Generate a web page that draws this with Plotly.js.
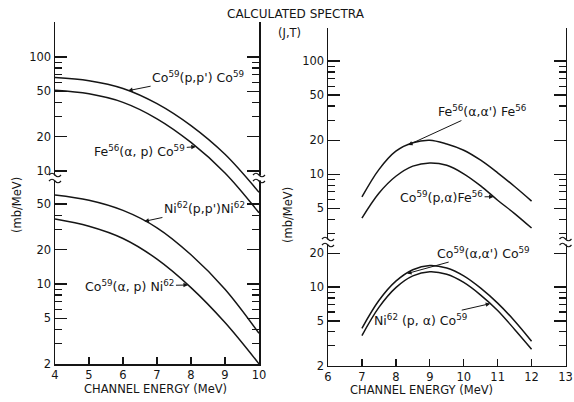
<!DOCTYPE html>
<html><head><meta charset="utf-8">
<script src="https://cdn.plot.ly/plotly-3.0.1.min.js"></script>
<style>html,body{margin:0;padding:0;background:#fff}#chart{width:574px;height:402px}</style>
</head><body><div id="chart"></div>
<script>
// ---- data ----
const energyLeft = [4, 5, 6, 7, 8, 9, 10];
const co59ppCo59 = [66, 62, 53, 39, 25, 14, 6.5];
const fe56apCo59 = [51, 47.5, 40, 28.7, 17.8, 9.6, 4.3];
const ni62ppNi62 = [60, 54, 44, 31, 18, 9, 3.7];
const co59apNi62 = [37, 32, 25, 16.5, 9.3, 4.6, 2.0];

const energyRight = [7, 7.5, 8, 8.5, 9, 9.5, 10, 10.5, 11, 11.5, 12];
const fe56aaFe56 = [6.3, 11, 16, 19, 20, 18.5, 16.3, 13.3, 10.3, 7.8, 5.8];
const co59paFe56 = [4.1, 6.8, 9.6, 11.8, 12.6, 12.0, 10.1, 7.9, 5.9, 4.5, 3.35];
const co59aaCo59 = [4.3, 7.6, 11.3, 14.3, 15.6, 14.8, 12.6, 9.8, 7.2, 5.0, 3.3];
const ni62paCo59 = [3.7, 6.6, 9.9, 12.6, 13.7, 13.0, 11.0, 8.5, 6.2, 4.2, 2.8];

const xTicksLeft = [4, 5, 6, 7, 8, 9, 10];
const xTopTicksLeft = [5, 6, 7, 8, 9];
const xTicksRight = [6, 7, 8, 9, 10, 11, 12, 13];
const xTopTicksRight = [7, 8, 9, 10, 11, 12];
const yMajorLeftUpper = [10, 20, 50, 100];
const yMinorLeftUpper = [30, 40, 60, 70, 80, 90];
const yMajorLeftLower = [2, 5, 10, 20, 50];
const yMinorLeftLower = [3, 4, 6, 7, 8, 9, 30, 40];
const yMajorRightUpper = [5, 10, 20, 50, 100];
const yMinorRightUpper = [3, 4, 6, 7, 8, 9, 30, 40, 60, 70, 80, 90];
const yMajorRightLower = [2, 5, 10, 20];
const yMinorRightLower = [3, 4, 6, 7, 8, 9];

const titleText = 'CALCULATED SPECTRA';
const subtitleText = '(J,T)';
const xTitle = 'CHANNEL ENERGY (MeV)';
const yTitle = '(mb/MeV)';

// ---- helpers ----
const W = 574, H = 402;
const fx = p => p / W;
const fy = p => 1 - p / H;
const INK = '#151515';
const FONT = 'DejaVu Sans, sans-serif';
function logAt(xs, ys, x) {
  for (let i = 0; i < xs.length - 1; i++) {
    if (x >= xs[i] && x <= xs[i + 1]) {
      const t = (x - xs[i]) / (xs[i + 1] - xs[i]);
      return Math.log10(ys[i]) * (1 - t) + Math.log10(ys[i + 1]) * t;
    }
  }
  return Math.log10(ys[ys.length - 1]);
}
function line(x, y, xa, ya, name) {
  return {x: x, y: y, xaxis: xa, yaxis: ya, name: name, type: 'scatter', mode: 'lines',
    line: {color: INK, width: 1.5, shape: 'spline', smoothing: 1}, showlegend: false, hoverinfo: 'skip'};
}
const traces = [
  line(energyLeft, co59ppCo59, 'x', 'y', "Co59(p,p')Co59"),
  line(energyLeft, fe56apCo59, 'x', 'y', 'Fe56(a,p)Co59'),
  line(energyLeft, ni62ppNi62, 'x', 'y2', "Ni62(p,p')Ni62"),
  line(energyLeft, co59apNi62, 'x', 'y2', 'Co59(a,p)Ni62'),
  line(energyRight, fe56aaFe56, 'x3', 'y3', "Fe56(a,a')Fe56"),
  line(energyRight, co59paFe56, 'x3', 'y3', 'Co59(p,a)Fe56'),
  line(energyRight, co59aaCo59, 'x3', 'y4', "Co59(a,a')Co59"),
  line(energyRight, ni62paCo59, 'x3', 'y4', 'Ni62(p,a)Co59')
];

const axBase = {showline: true, linecolor: INK, linewidth: 1.5, ticks: 'inside', tickcolor: INK,
  tickwidth: 1.3, showgrid: false, zeroline: false, tickfont: {family: FONT, size: 11.5, color: INK},
  fixedrange: true, ticklabeloverflow: 'allow'};
function xAx(domain, range, anchor, ticks, opts) {
  return Object.assign({}, axBase, {domain: domain, range: range, anchor: anchor, tickmode: 'array',
    tickvals: ticks, ticktext: ticks.map(String), ticklen: 7}, opts || {});
}
function yAx(domain, range, anchor, major, minor) {
  return Object.assign({}, axBase, {domain: domain, range: range, anchor: anchor, type: 'log',
    tickmode: 'array', tickvals: major, ticktext: major.map(String), ticklen: 12, mirror: 'ticks',
    minor: {tickmode: 'array', tickvals: minor, ticks: 'inside', ticklen: 7, tickcolor: INK, tickwidth: 1.2}});
}

const leftDom = [fx(55), fx(259)];
const rightDom = [fx(328), fx(565.5)];

const layout = {
  width: W, height: H, margin: {l: 0, r: 0, t: 0, b: 0}, paper_bgcolor: '#fff', plot_bgcolor: 'rgba(0,0,0,0)',
  font: {family: FONT, color: INK, size: 11}, showlegend: false,
  xaxis: xAx(leftDom, [4, 10], 'y2', xTicksLeft),
  xaxis2: xAx(leftDom, [4, 10], 'y', xTopTicksLeft, {side: 'top', showticklabels: false}),
  xaxis3: xAx(rightDom, [6, 13], 'y4', xTicksRight),
  xaxis4: xAx(rightDom, [6, 13], 'y3', xTopTicksRight, {side: 'top', showticklabels: false}),
  yaxis: yAx([fy(220), fy(22)], [0.570, 2.307], 'x', yMajorLeftUpper, yMinorLeftUpper),
  yaxis2: yAx([fy(364), fy(178)], [0.300, 1.927], 'x', yMajorLeftLower, yMinorLeftLower),
  yaxis3: yAx([fy(242), fy(27.7)], [0.402, 2.294], 'x3', yMajorRightUpper, yMinorRightUpper),
  yaxis4: yAx([fy(365.7), fy(242)], [0.300, 1.402], 'x3', yMajorRightLower, yMinorRightLower),
  annotations: [],
  shapes: []
};

const A = layout.annotations;
const tf = {family: FONT, size: 11.5, color: INK};
function txt(x, y, text, font, extra) {
  A.push(Object.assign({xref: 'paper', yref: 'paper', x: fx(x), y: fy(y), xanchor: 'center', yanchor: 'middle',
    text: text, showarrow: false, font: font}, extra || {}));
}
txt(296, 14, titleText, {family: FONT, size: 12, color: INK});
txt(289, 33, subtitleText, tf);
txt(155, 389, xTitle, tf);
txt(421, 390, xTitle, tf);
txt(17, 205, yTitle, tf, {textangle: -90});
txt(288, 215, yTitle, tf, {textangle: -90});

function lab(text, xs, ys, xv, xr, yr, ax, ay) {
  A.push({xref: xr, yref: yr, x: xv, y: logAt(xs, ys, xv), text: text, showarrow: true,
    arrowhead: 2, arrowsize: 0.9, arrowwidth: 1, arrowcolor: INK, ax: ax, ay: ay,
    font: {family: FONT, size: 12.5, color: INK}});
}
lab("Co<sup>59</sup>(p,p') Co<sup>59</sup>", energyLeft, co59ppCo59, 6.15, 'x', 'y', 70, -14);
lab('Fe<sup>56</sup>(α, p) Co<sup>59</sup>', energyLeft, fe56apCo59, 8.14, 'x', 'y', -56, 4);
lab("Ni<sup>62</sup>(p,p')Ni<sup>62</sup>", energyLeft, ni62ppNi62, 6.63, 'x', 'y2', 60, -13);
lab('Co<sup>59</sup>(α, p) Ni<sup>62</sup>', energyLeft, co59apNi62, 7.91, 'x', 'y2', -58, 1);
lab("Fe<sup>56</sup>(α,α') Fe<sup>56</sup>", energyRight, fe56aaFe56, 8.36, 'x3', 'y3', 74, -34);
lab('Co<sup>59</sup>(p,α)Fe<sup>56</sup>', energyRight, co59paFe56, 10.88, 'x3', 'y3', -52, 0);
lab("Co<sup>59</sup>(α,α') Co<sup>59</sup>", energyRight, co59aaCo59, 8.33, 'x3', 'y4', 76, -21);
lab('Ni<sup>62</sup> (p, α) Co<sup>59</sup>', energyRight, ni62paCo59, 10.78, 'x3', 'y4', -70, 16);

// axis-break marks
function brk(xp, yp) {
  const base = {xref: 'paper', yref: 'paper', xsizemode: 'pixel', ysizemode: 'pixel', xanchor: fx(xp), yanchor: fy(yp)};
  layout.shapes.push(Object.assign({type: 'path', path: 'M-5,-2.5 L5,-2.5 L5,2.5 L-5,2.5 Z', fillcolor: '#fff', line: {width: 0}}, base));
  layout.shapes.push(Object.assign({type: 'path', path: 'M-6,3 Q-3,6.5 0,3 T6,3', line: {color: INK, width: 1.2}}, base));
  layout.shapes.push(Object.assign({type: 'path', path: 'M-6,-3 Q-3,0.5 0,-3 T6,-3', line: {color: INK, width: 1.2}}, base));
}
brk(55, 178); brk(259, 178); brk(328, 242); brk(565.5, 242);

Plotly.newPlot('chart', traces, layout, {staticPlot: true, displayModeBar: false});
</script>
</body></html>
